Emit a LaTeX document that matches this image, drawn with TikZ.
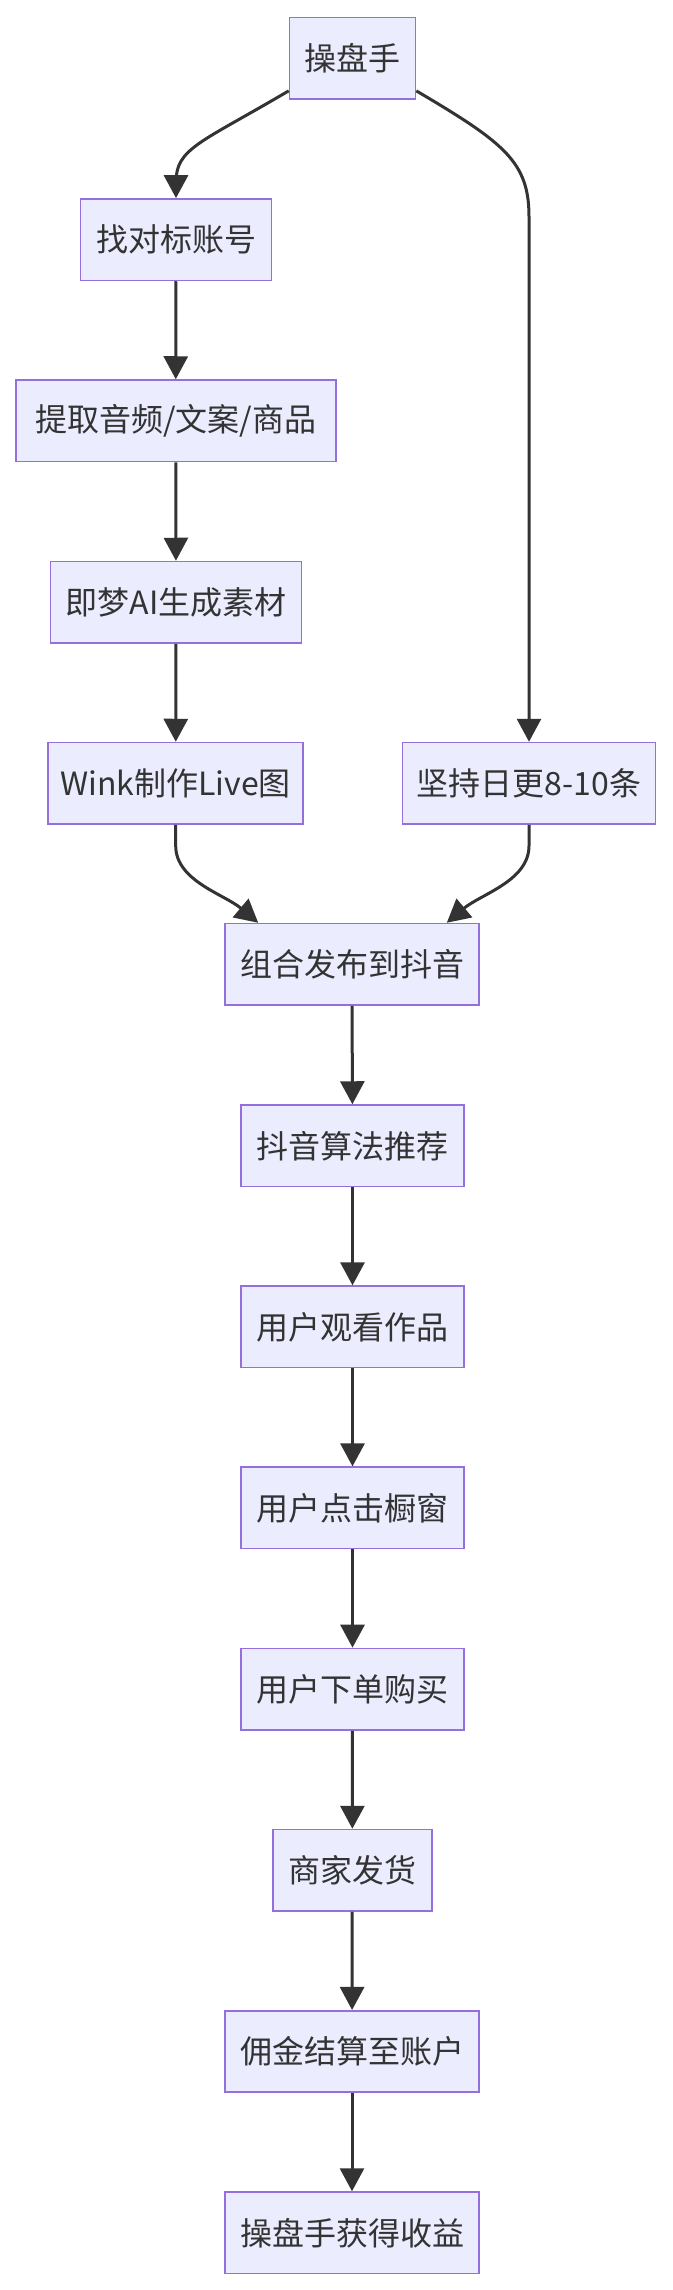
\documentclass[tikz,border=0pt]{standalone}
\usepackage{fontspec}
\setmainfont{Noto Sans CJK SC}
\usetikzlibrary{arrows.meta,calc}
\definecolor{boxfill}{HTML}{ECECFF}
\definecolor{boxline}{HTML}{9370DB}
\definecolor{ink}{HTML}{333333}
\tikzset{
  stepbox/.style={draw=boxline, fill=boxfill, line width=1.6pt, minimum height=81.5pt,
    inner sep=0pt, text=ink, font=\fontsize{32}{36}\selectfont, anchor=center},
  arr/.style={draw=ink, line width=3pt, -{Triangle[length=23pt,width=24pt]}}
}
\begin{document}
\begin{tikzpicture}[x=1pt,y=-1pt]
\useasboundingbox (0,0) rectangle (672,2290);
\node[stepbox, minimum width=126pt] (cps) at (352.5,58.3) {操盘手};
\node[stepbox, minimum width=191pt] (zhao) at (176,239.7) {找对标账号};
\node[stepbox, minimum width=320pt] (tiqu) at (175.7,420.8) {提取音频/文案/商品};
\node[stepbox, minimum width=251pt] (jimeng) at (176,602.3) {即梦AI生成素材};
\node[stepbox, minimum width=255pt] (wink) at (175.7,783.3) {Wink制作Live图};
\node[stepbox, minimum width=253pt] (jc) at (529,783.3) {坚持日更8-10条};
\node[stepbox, minimum width=254pt] (zuhe) at (352,964.3) {组合发布到抖音};
\node[stepbox, minimum width=223pt] (suanfa) at (352.5,1145.8) {抖音算法推荐};
\node[stepbox, minimum width=223pt] (guankan) at (352.5,1326.9) {用户观看作品};
\node[stepbox, minimum width=223pt] (dianji) at (352.5,1507.9) {用户点击橱窗};
\node[stepbox, minimum width=223pt] (xiadan) at (352.5,1689.2) {用户下单购买};
\node[stepbox, minimum width=159pt] (fahuo) at (352.3,1870.3) {商家发货};
\node[stepbox, minimum width=254pt] (yongjin) at (352,2051.5) {佣金结算至账户};
\node[stepbox, minimum width=254pt] (shouyi) at (352,2232.8) {操盘手获得收益};

\coordinate (a0) at ($(cps.south west)+(0,-9)$);
\coordinate (b0) at ($(cps.south east)+(0,-9)$);
\coordinate (c1) at ($(zuhe.north west)+(34,0)$);
\coordinate (d1) at ($(zuhe.north east)+(-33,0)$);

\draw[arr] (a0) .. controls ($(a0)+(-88,52)$) and ($(zhao.north)+(0,-50)$) .. ($(zhao.north)+(0,-16)$) -- (zhao.north);
\draw[arr] (b0) .. controls ($(b0)+(88,52)$) and ($(jc.north)+(0,-580)$) .. ($(jc.north)+(0,-525)$) -- (jc.north);
\draw[arr] (zhao) -- (tiqu);
\draw[arr] (tiqu) -- (jimeng);
\draw[arr] (jimeng) -- (wink);
\draw[arr] (wink.south) -- ++(0,21) .. controls ($(wink.south)+(0,56)$) and ($(c1)+(-34,-28.6)$) .. (c1);
\draw[arr] (jc.south) -- ++(0,21) .. controls ($(jc.south)+(0,56)$) and ($(d1)+(34,-28.6)$) .. (d1);
\draw[arr] (zuhe) -- (suanfa);
\draw[arr] (suanfa) -- (guankan);
\draw[arr] (guankan) -- (dianji);
\draw[arr] (dianji) -- (xiadan);
\draw[arr] (xiadan) -- (fahuo);
\draw[arr] (fahuo) -- (yongjin);
\draw[arr] (yongjin) -- (shouyi);
\end{tikzpicture}
\end{document}
